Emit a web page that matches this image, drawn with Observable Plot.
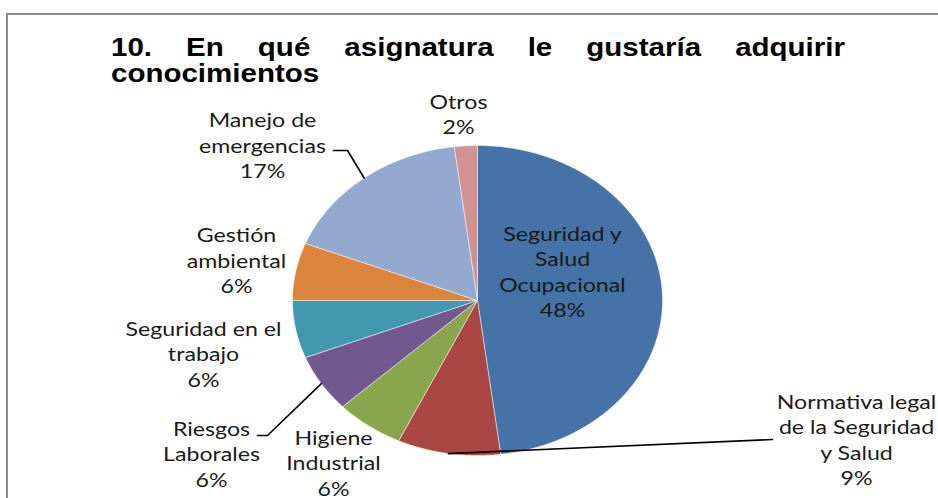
<!DOCTYPE html>
<html><head><meta charset="utf-8">
<script src="https://cdn.jsdelivr.net/npm/d3@7"></script>
<script src="https://cdn.jsdelivr.net/npm/@observablehq/plot@0.6"></script>
<style>
html,body{margin:0;padding:0;background:#fff;width:938px;height:498px;overflow:hidden;position:relative}
#frame{position:absolute;left:6px;top:13px;width:1000px;height:600px;border-top:2px solid #8a8a8a;border-left:2px solid #8a8a8a;box-sizing:border-box}
#title{position:absolute;left:111px;top:34px;width:622px;font:bold 25px "Liberation Sans",Arial,sans-serif;line-height:26px;text-align:justify;transform:scaleX(1.18);transform-origin:0 0;color:#000}
#chart{position:absolute;left:0;top:88px}
</style></head><body>
<div id="frame"></div>
<div id="title">10. En qué asignatura le gustaría adquirir conocimientos</div>
<div id="chart"></div>
<script>
// ---- data ----
const categories = ["Seguridad y Salud Ocupacional","Normativa legal de la Seguridad y Salud","Higiene Industrial","Riesgos Laborales","Seguridad en el trabajo","Gestión ambiental","Manejo de emergencias","Otros"];
const percentages = [48, 9, 6, 6, 6, 6, 17, 2];
const labelLines = [
  ["Seguridad y","Salud","Ocupacional"],
  ["Normativa legal","de la Seguridad","y Salud"],
  ["Higiene","Industrial"],
  ["Riesgos","Laborales"],
  ["Seguridad en el","trabajo"],
  ["Gestión","ambiental"],
  ["Manejo de","emergencias"],
  ["Otros"]
];
const colors = ["#4572A7","#AA4643","#89A54E","#71588F","#4198AF","#DB843D","#93A9CF","#D19392"];

// ---- layout (page pixels) ----
const CX = 477, CY = 300, RX = 185, RY = 155, TOP = 88, H = 410, W = 938;
const LINE = 25.5, STRETCH = 1.22;
const labelPos = [ // [center x, first baseline y]
  [562, 240], [856, 408], [333, 444], [211, 435], [203, 335], [236, 241.7], [262, 126.7], [458, 108.3]
];
const leaders = [ // slice index, elbow points after the edge point
  {i: 6, pts: [[347, 150], [333, 150]]},
  {i: 3, pts: [[267, 435], [257, 435]]},
  {i: 1, pts: [[772, 439]]}
];
const ux = px => (px - CX) / RX;
const uy = py => (CY - py) / RY;

// ---- geometry from data ----
const arcs = d3.pie().sort(null).value(d => d)(percentages);
const slices = [];
arcs.forEach((a, i) => {
  const n = Math.max(2, Math.ceil((a.endAngle - a.startAngle) / 0.01));
  slices.push({cat: categories[i], x: 0, y: 0});
  for (let k = 0; k <= n; k++) {
    const t = a.startAngle + (a.endAngle - a.startAngle) * k / n;
    slices.push({cat: categories[i], x: Math.sin(t), y: Math.cos(t)});
  }
  slices.push({cat: categories[i], x: 0, y: 0});
});
const leaderPts = [];
leaders.forEach(({i, pts}) => {
  const m = (arcs[i].startAngle + arcs[i].endAngle) / 2;
  leaderPts.push({id: i, x: Math.sin(m), y: Math.cos(m)});
  pts.forEach(([px, py]) => leaderPts.push({id: i, x: ux(px), y: uy(py)}));
});
const texts = [];
labelLines.forEach((lines, i) => {
  const all = [...lines, `${percentages[i]}%`];
  all.forEach((s, k) => texts.push({s, x: ux(labelPos[i][0]), y: uy(labelPos[i][1] + k * LINE)}));
});

const chart = Plot.plot({
  width: W, height: H, margin: 0,
  x: {domain: [ux(0), ux(W)], axis: null},
  y: {domain: [uy(TOP + H), uy(TOP)], axis: null},
  color: {domain: categories, range: colors},
  style: {background: "transparent", overflow: "visible"},
  marks: [
    Plot.line(slices, {x: "x", y: "y", z: "cat", fill: "cat", stroke: "#ffffff", strokeWidth: 0.8, strokeOpacity: 0.6, curve: "linear"}),
    Plot.line(leaderPts, {x: "x", y: "y", z: "id", stroke: "#000", strokeWidth: 1.6, curve: "linear"}),
    Plot.text(texts, {x: "x", y: "y", text: "s", lineAnchor: "bottom", textAnchor: "middle", fontSize: 19, fontFamily: "Lato", fill: "#1a1a1a"})
  ]
});
document.getElementById("chart").appendChild(chart);
chart.querySelectorAll("text").forEach(t => {
  const tr = t.getAttribute("transform");
  if (tr) t.setAttribute("transform", tr + ` scale(${STRETCH},1)`);
  else {
    const x = +t.getAttribute("x") || 0;
    t.setAttribute("transform", `translate(${x},0) scale(${STRETCH},1) translate(${-x},0)`);
  }
});
</script>
</body></html>
